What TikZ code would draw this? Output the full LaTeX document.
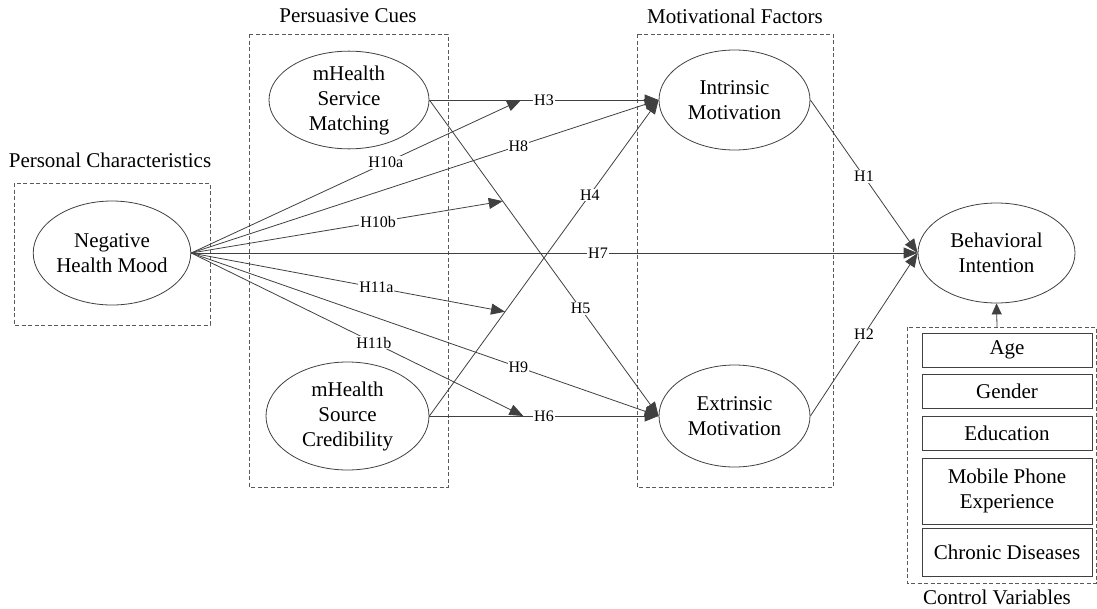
\documentclass[tikz,border=0pt]{standalone}
\usepackage{fontspec}
\setmainfont{Liberation Serif}
\usetikzlibrary{shapes.geometric,arrows.meta,calc}
\definecolor{ln}{HTML}{404040}
\definecolor{dsh}{HTML}{5A5A5A}
\tikzset{
  construct/.style={ellipse,draw=ln,line width=0.8pt,inner sep=0pt,align=center,
     font=\fontsize{21}{25}\selectfont},
  group/.style={draw=dsh,dashed,dash pattern=on 4pt off 2.5pt,line width=0.8pt},
  grouptitle/.style={font=\fontsize{21}{23}\selectfont,inner sep=0pt},
  ctrl/.style={draw=ln,line width=0.8pt,align=center,inner sep=0pt,minimum width=170pt,
     font=\fontsize{21}{25}\selectfont},
  path/.style={draw=ln,line width=0.8pt,-{Triangle[length=14pt,width=11pt]}},
  hlab/.style={fill=white,inner sep=1pt,font=\fontsize{16}{18}\selectfont,text=black}
}
\begin{document}
\begin{tikzpicture}[x=1pt,y=-1pt]
\useasboundingbox (0,0) rectangle (1097,608);
% group boxes
\draw[group] (14,183) rectangle (210,325);
\draw[group] (249,34) rectangle (448,487);
\draw[group] (637,34) rectangle (833,487);
\draw[group] (907,327) rectangle (1096,583);
\node[grouptitle] (tPC) at (110,160) {Personal Characteristics};
\node[grouptitle] (tPCu) at (348,16) {Persuasive Cues};
\node[grouptitle] (tMF) at (735,16) {Motivational Factors};
\node[grouptitle] (tCV) at (997,597) {Control Variables};
% constructs
\node[construct,minimum width=157pt,minimum height=104pt] (NHM) at (112,253) {Negative\\Health Mood};
\node[construct,minimum width=160pt,minimum height=96pt] (SM) at (349,100) {mHealth\\Service\\Matching};
\node[construct,minimum width=163pt,minimum height=108pt] (SC) at (347.5,416) {mHealth\\Source\\Credibility};
\node[construct,minimum width=151pt,minimum height=100pt] (IM) at (734.5,100) {Intrinsic\\Motivation};
\node[construct,minimum width=151pt,minimum height=102pt] (EM) at (734.5,416) {Extrinsic\\Motivation};
\node[construct,minimum width=157pt,minimum height=100pt] (BI) at (996.5,253) {Behavioral\\Intention};
% control variables
\node[ctrl,minimum height=34pt] (age) at (1007,350) {Age};
\node[ctrl,minimum height=34pt] (gen) at (1007,391) {Gender};
\node[ctrl,minimum height=34pt] (edu) at (1007,433) {Education};
\node[ctrl,minimum height=66pt] (mob) at (1007,491) {Mobile Phone\\Experience};
\node[ctrl,minimum height=48pt] (chr) at (1007,552) {Chronic Diseases};
\coordinate (cvtop) at (997,327);
\draw[draw=ln,line width=0.8pt,-{Triangle[length=11pt,width=10pt]}] (cvtop) -- (BI.south);
% main paths
\draw[path] (SM.east) -- node[hlab,pos=0.5] {H3} (IM.west);
\draw[path] (SM.east) -- node[hlab,pos=0.66] {H5} (EM.west);
\draw[path] (SC.east) -- node[hlab,pos=0.5] {H6} (EM.west);
\draw[path] (SC.east) -- node[hlab,pos=0.70] {H4} (IM.west);
\draw[path] (NHM.east) -- node[hlab,pos=0.56] {H7} (BI.west);
\draw[path] (NHM.east) -- node[hlab,pos=0.70] {H8} (IM.west);
\draw[path] (NHM.east) -- node[hlab,pos=0.70] {H9} (EM.west);
\draw[path] (IM.east) -- node[hlab,pos=0.5] {H1} (BI.west);
\draw[path] (EM.east) -- node[hlab,pos=0.5] {H2} (BI.west);
% moderation targets
\coordinate (m10a) at ($(SM.east)!0.40!(IM.west)$);
\coordinate (m10b) at ($(SM.east)!0.32!(EM.west)$);
\coordinate (m11a) at ($(SC.east)!0.33!(IM.west)$);
\coordinate (m11b) at ($(SC.east)!0.41!(EM.west)$);
\draw[path] (NHM.east) -- node[hlab,pos=0.59] {H10a} (m10a);
\draw[path] (NHM.east) -- node[hlab,pos=0.60] {H10b} (m10b);
\draw[path] (NHM.east) -- node[hlab,pos=0.59] {H11a} (m11a);
\draw[path] (NHM.east) -- node[hlab,pos=0.55] {H11b} (m11b);
\end{tikzpicture}
\end{document}
